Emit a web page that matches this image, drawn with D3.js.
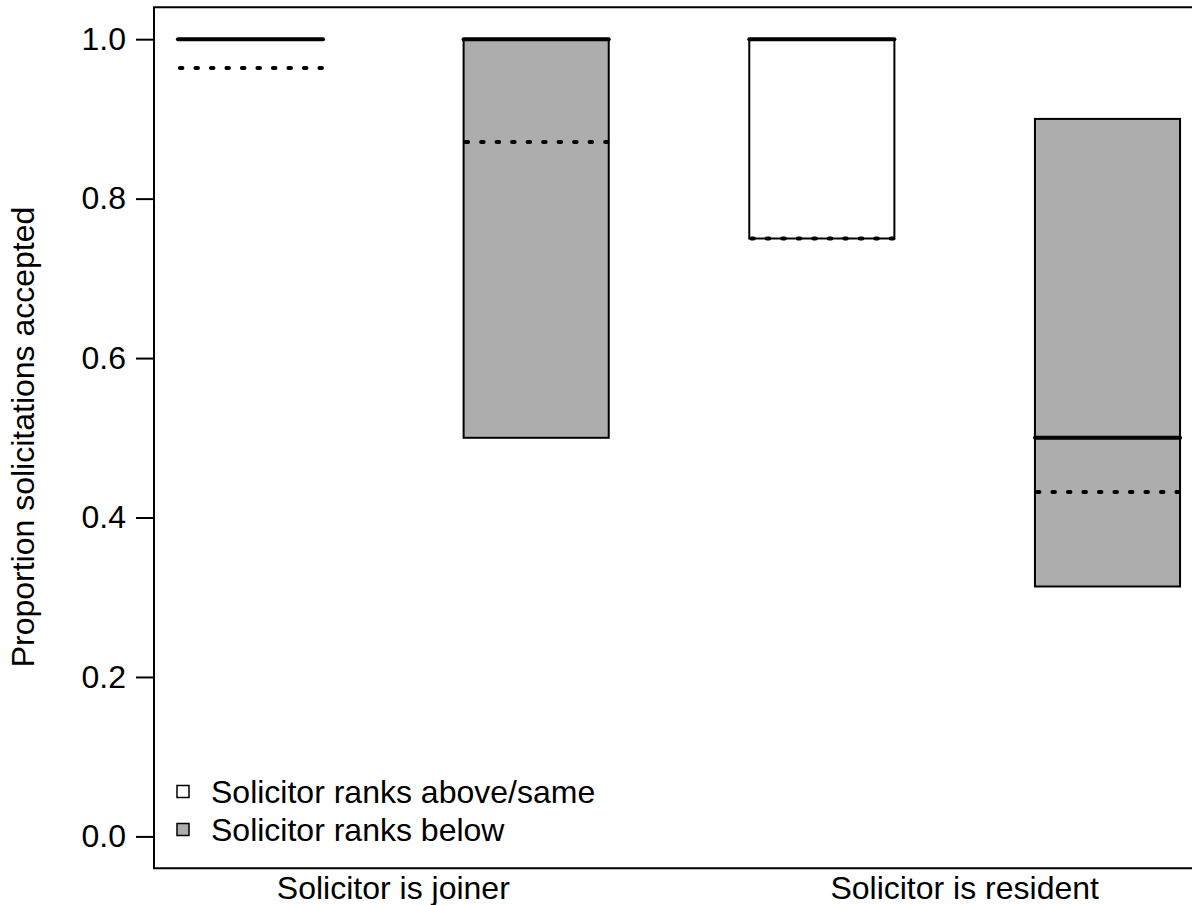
<!DOCTYPE html>
<html>
<head>
<meta charset="utf-8">
<script src="https://cdn.jsdelivr.net/npm/d3@7"></script>
<style>
  html, body { margin: 0; padding: 0; background: #fff; }
  svg { display: block; }
  text { font-family: "Liberation Sans", Arial, sans-serif; fill: #000; }
</style>
</head>
<body>
<svg id="chart" width="1192" height="905"></svg>
<script>
// ---- data ----
const groupLabels = ["Solicitor is joiner", "Solicitor is resident"];
const groupCenters = [1.5, 3.5];
const positions = [1, 2, 3, 4];
const rankType = ["above", "below", "above", "below"];
const q1 = [1.0, 0.5, 0.75, 0.3135];
const q3 = [1.0, 1.0, 1.0, 0.9];
const medians = [1.0, 1.0, 1.0, 0.5];
const means = [0.964, 0.871, 0.75, 0.432];
const yTicks = [0.0, 0.2, 0.4, 0.6, 0.8, 1.0];
const legendLabels = ["Solicitor ranks above/same", "Solicitor ranks below"];
const legendTypes = ["above", "below"];
const fillFor = { above: "#ffffff", below: "#adadad" };

// ---- scales ----
const svg = d3.select("#chart");
const y = d3.scaleLinear().domain([-0.04, 1.04]).range([868.3, 7.3]);
const x = d3.scaleLinear().domain([1, 4]).range([250.5, 1107.5]);
const frameLeft = 154, frameRight = 1205;
const boxW = 0.508;
const FS = 32;

// ---- boxes ----
const data = positions.map((p, i) => ({ p, type: rankType[i], q1: q1[i], q3: q3[i], med: medians[i], mean: means[i] }));

const g = svg.append("g");
g.selectAll("rect.box").data(data).join("rect")
  .attr("class", "box")
  .attr("x", d => x(d.p - boxW / 2))
  .attr("width", d => x(d.p + boxW / 2) - x(d.p - boxW / 2))
  .attr("y", d => y(d.q3))
  .attr("height", d => y(d.q1) - y(d.q3))
  .attr("fill", d => fillFor[d.type])
  .attr("stroke", "#000")
  .attr("stroke-width", 2);

g.selectAll("line.med").data(data).join("line")
  .attr("class", "med")
  .attr("x1", d => x(d.p - boxW / 2))
  .attr("x2", d => x(d.p + boxW / 2))
  .attr("y1", d => y(d.med)).attr("y2", d => y(d.med))
  .attr("stroke", "#000").attr("stroke-width", 4)
  .attr("stroke-linecap", "round");

g.selectAll("line.mean").data(data).join("line")
  .attr("class", "mean")
  .attr("x1", d => x(d.p - boxW / 2) + 2)
  .attr("x2", d => x(d.p + boxW / 2))
  .attr("y1", d => y(d.mean)).attr("y2", d => y(d.mean))
  .attr("stroke", "#000").attr("stroke-width", 4)
  .attr("stroke-linecap", "round")
  .attr("stroke-dasharray", "2.5,13");

// ---- frame ----
svg.append("path")
  .attr("d", `M${frameRight},${y.range()[1]}H${frameLeft}V${y.range()[0]}H${frameRight}`)
  .attr("fill", "none").attr("stroke", "#000").attr("stroke-width", 2);

// ---- y axis ----
const yAxis = d3.axisLeft(y).tickValues(yTicks).tickFormat(d3.format(".1f")).tickSize(18).tickPadding(10);
const ya = svg.append("g").attr("transform", `translate(${frameLeft},0)`).call(yAxis);
ya.select(".domain").remove();
ya.selectAll(".tick line").attr("stroke", "#000").attr("stroke-width", 2);
ya.selectAll(".tick text").attr("font-size", FS).attr("font-family", "Liberation Sans, Arial, sans-serif").attr("fill", "#000");

// ---- x labels ----
svg.selectAll("text.xlab").data(groupLabels).join("text")
  .attr("class", "xlab")
  .attr("x", (d, i) => x(groupCenters[i]))
  .attr("y", 899)
  .attr("text-anchor", "middle")
  .attr("font-size", FS)
  .text(d => d);

// ---- y title ----
svg.append("text")
  .attr("transform", `translate(34,437) rotate(-90)`)
  .attr("text-anchor", "middle")
  .attr("font-size", FS)
  .text("Proportion solicitations accepted");

// ---- legend ----
const leg = svg.append("g");
const legRows = legendLabels.map((l, i) => ({ l, type: legendTypes[i], cy: 792 + i * 38 }));
leg.selectAll("rect").data(legRows).join("rect")
  .attr("x", 177).attr("y", d => d.cy - 6.5)
  .attr("width", 12).attr("height", 12)
  .attr("fill", d => fillFor[d.type])
  .attr("stroke", "#000").attr("stroke-width", 1.5);
leg.selectAll("text").data(legRows).join("text")
  .attr("x", 211).attr("y", d => d.cy + 11)
  .attr("font-size", FS)
  .text(d => d.l);
</script>
</body>
</html>
